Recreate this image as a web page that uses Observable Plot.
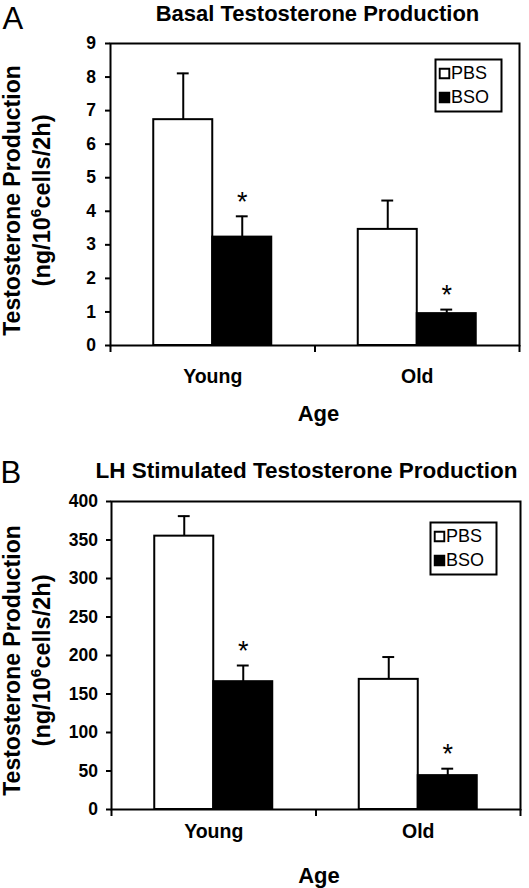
<!DOCTYPE html>
<html>
<head>
<meta charset="utf-8">
<script src="https://cdn.jsdelivr.net/npm/d3@7"></script>
<script src="https://cdn.jsdelivr.net/npm/@observablehq/plot@0.6"></script>
<style>
  body { margin: 0; background: #fff; }
  #chart svg { display: block; }
</style>
</head>
<body>
<div id="chart"></div>
<script>
// ---- data ----
const categories = ["Young", "Old"];
const seriesNames = ["PBS", "BSO"];
const xTitle = "Age";
const yTitleLine1 = "Testosterone Production";
const yTitleLine2Parts = ["(ng/10", "6", "cells/2h)"];

const basalTitle = "Basal Testosterone Production";
const basalPBS = [6.73, 3.46];
const basalPBSErr = [1.38, 0.86];
const basalBSO = [3.23, 0.95];
const basalBSOErr = [0.62, 0.12];
const basalBSOSignificant = [true, true];
const basalTicks = [0, 1, 2, 3, 4, 5, 6, 7, 8, 9];

const lhTitle = "LH Stimulated Testosterone Production";
const lhPBS = [355, 169];
const lhPBSErr = [26, 29];
const lhBSO = [166, 44];
const lhBSOErr = [21, 9];
const lhBSOSignificant = [true, true];
const lhTicks = [0, 50, 100, 150, 200, 250, 300, 350, 400];

const FONT = "'Liberation Sans', Arial, Helvetica, sans-serif";
const WIDTH = 529;

function panel(cfg) {
  const rows = [];
  categories.forEach((c, i) => {
    rows.push({cat: c, i, series: seriesNames[0], value: cfg.pbs[i], err: cfg.pbsErr[i], sig: false, side: -1});
    rows.push({cat: c, i, series: seriesNames[1], value: cfg.bso[i], err: cfg.bsoErr[i], sig: cfg.sig[i], side: 1});
  });
  const BW = 0.2885;            // bar width as a share of one category band
  const CAP = 0.029;            // half cap width, same units
  const x1 = d => d.side < 0 ? d.i + 0.5 - BW : d.i + 0.5;
  const x2 = d => d.side < 0 ? d.i + 0.5 : d.i + 0.5 + BW;
  const cx = d => d.i + 0.5 + d.side * BW / 2;
  const top = d => d.value + d.err;

  const fw = WIDTH - cfg.mL - cfg.mR;
  const fh = cfg.height - cfg.mT - cfg.mB;
  const legW = 66, legH = 52;
  const legLeft = fw - cfg.legRight - legW;

  const legendMarks = seriesNames.flatMap((s, k) => [
    Plot.dot([s], {frameAnchor: "top-left", dx: legLeft + 9, dy: cfg.legTop + 14 + k * 24,
      symbol: "square", r: 5.4, fill: d => d, stroke: "black", strokeWidth: 1.9}),
    Plot.text([s], {frameAnchor: "top-left", textAnchor: "start", lineAnchor: "middle",
      dx: legLeft + 15.5, dy: cfg.legTop + 14 + k * 24,
      text: d => d, fontSize: 18, fill: "black"})
  ]);

  const svg = Plot.plot({
    width: WIDTH,
    height: cfg.height,
    marginTop: cfg.mT,
    marginBottom: cfg.mB,
    marginLeft: cfg.mL,
    marginRight: cfg.mR,
    style: {fontFamily: FONT, fontSize: "16px", color: "black", background: "white", overflow: "visible"},
    x: {domain: [0, categories.length], axis: null},
    y: {domain: [0, cfg.ticks[cfg.ticks.length - 1]], axis: null},
    color: {domain: seriesNames, range: ["white", "black"]},
    marks: [
      Plot.ruleX(rows, {x: cx, y1: "value", y2: top, stroke: "black", strokeWidth: 2}),
      Plot.ruleY(rows, {y: top, x1: d => cx(d) - CAP, x2: d => cx(d) + CAP, stroke: "black", strokeWidth: 2}),
      Plot.rectY(rows, {x1, x2, y1: 0, y2: "value", fill: "series", stroke: "black", strokeWidth: 2}),
      Plot.text(rows.filter(d => d.sig), {x: cx, y: top, text: () => "*", lineAnchor: "bottom",
        dy: cfg.starDy, fontSize: 27, fill: "black"}),
      Plot.frame({stroke: "black", strokeWidth: 2}),
      Plot.axisY({ticks: cfg.ticks, tickSize: 5, tickFormat: () => "", strokeWidth: 2, label: null}),
      Plot.text(cfg.ticks, {y: d => d, frameAnchor: "left", textAnchor: "end", lineAnchor: "middle",
        dx: cfg.tickDx, text: d => String(d), fontSize: 17.5, fontWeight: "bold", fill: "black"}),
      Plot.axisX({ticks: d3.range(categories.length + 1), tickSize: 7, tickFormat: () => "",
        strokeWidth: 2, label: null}),
      Plot.frame({fill: "white", stroke: "black", strokeWidth: 2,
        insetLeft: legLeft, insetRight: cfg.legRight, insetTop: cfg.legTop, insetBottom: fh - cfg.legTop - legH}),
      ...legendMarks,
      Plot.text(categories, {x: (d, i) => i + 0.5, frameAnchor: "bottom", lineAnchor: "bottom",
        dy: cfg.catDy, text: d => d, fontSize: 19.5, fontWeight: "bold", fill: "black"}),
      Plot.text([xTitle], {frameAnchor: "bottom", lineAnchor: "bottom", dx: cfg.ageDx, dy: cfg.ageDy,
        text: d => d, fontSize: 22, fontWeight: "bold", fill: "black"}),
      Plot.text([cfg.title], {frameAnchor: "top", lineAnchor: "bottom", dx: cfg.titleDx, dy: cfg.titleDy,
        text: d => d, fontSize: cfg.titleSize, fontWeight: "bold", fill: "black"}),
      Plot.text([cfg.letter], {frameAnchor: "top-left", textAnchor: "start", lineAnchor: "bottom",
        dx: cfg.letterDx, dy: cfg.letterDy, text: d => d, fontSize: 31, fill: "black"}),
      Plot.text([yTitleLine1], {frameAnchor: "left", textAnchor: "middle", lineAnchor: "bottom", rotate: -90,
        dx: cfg.yl1Dx, dy: cfg.ylDy, text: d => d, fontSize: 23, fontWeight: "bold", fill: "black"}),
      Plot.text([yTitleLine2Parts.join("")], {frameAnchor: "left", textAnchor: "middle", lineAnchor: "bottom", rotate: -90,
        dx: cfg.yl2Dx, dy: cfg.ylDy, text: d => d, fontSize: 23.5, fontWeight: "bold", fill: "black"})
    ]
  });

  // superscript in the unit line
  d3.select(svg).selectAll("text").filter(function () {
    return this.textContent === yTitleLine2Parts.join("");
  }).each(function () {
    const t = d3.select(this);
    t.text(null);
    t.append("tspan").text(yTitleLine2Parts[0]);
    t.append("tspan").attr("dy", -9).attr("font-size", 15.5).text(yTitleLine2Parts[1]);
    t.append("tspan").attr("dy", 9).text(yTitleLine2Parts[2]);
  });
  return svg;
}

const chart = document.getElementById("chart");
chart.append(panel({
  height: 440, mT: 43, mB: 95, mL: 110, mR: 10,
  pbs: basalPBS, pbsErr: basalPBSErr, bso: basalBSO, bsoErr: basalBSOErr, sig: basalBSOSignificant,
  ticks: basalTicks, tickDx: -14.5, starDy: -5.5,
  legRight: 18, legTop: 16,
  catDy: 37.5, ageDx: 3.5, ageDy: 75,
  title: basalTitle, titleSize: 22, titleDx: 2.5, titleDy: -23,
  letter: "A", letterDx: -108, letterDy: -14.5,
  yl1Dx: -91, yl2Dx: -61, ylDy: 6
}));
chart.append(panel({
  height: 448, mT: 61, mB: 79, mL: 111, mR: 9,
  pbs: lhPBS, pbsErr: lhPBSErr, bso: lhBSO, bsoErr: lhBSOErr, sig: lhBSOSignificant,
  ticks: lhTicks, tickDx: -13.5, starDy: -5.5,
  legRight: 24, legTop: 21,
  catDy: 28, ageDx: 3, ageDy: 73.5,
  title: lhTitle, titleSize: 22.5, titleDx: -9.5, titleDy: -24,
  letter: "B", letterDx: -111, letterDy: -19,
  yl1Dx: -92, yl2Dx: -62, ylDy: 5
}));
</script>
</body>
</html>
